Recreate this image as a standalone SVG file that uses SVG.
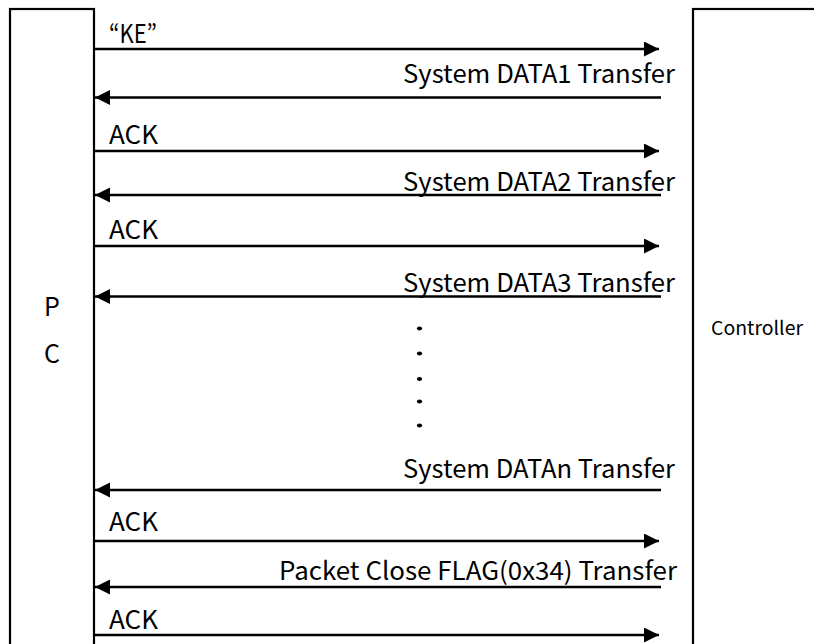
<svg xmlns="http://www.w3.org/2000/svg" width="814" height="644" viewBox="0 0 814 644">
<style>
.box{fill:#fff;stroke:#000;stroke-width:2.2}
.msg{stroke:#000;stroke-width:2.4;fill:none;marker-end:url(#ah)}
text{font-family:"Noto Sans CJK KR","Noto Sans","Liberation Sans",sans-serif;fill:#000}
.lbl{font-size:25px}
.big{font-size:25px}
</style>
<defs>
<marker id="ah" markerUnits="userSpaceOnUse" markerWidth="16" markerHeight="16" refX="15" refY="7.5" orient="auto">
<path d="M0,0 L15,7.5 L0,15 z" fill="#000"/>
</marker>
</defs>
<rect width="814" height="644" fill="#fff"/>
<g id="pc">
<rect class="box" x="10" y="9" width="84" height="660"/>
<text class="big" x="52" y="316" text-anchor="middle">P</text>
<text class="big" x="52" y="363" text-anchor="middle">C</text>
</g>
<g id="controller">
<rect class="box" x="693" y="9" width="150" height="660"/>
<text x="711" y="335" font-size="19" textLength="92" lengthAdjust="spacingAndGlyphs">Controller</text>
</g>
<g id="connectors">
<line class="msg" x1="94" y1="49" x2="659" y2="49"/>
<line class="msg" x1="661" y1="97.5" x2="95" y2="97.5"/>
<line class="msg" x1="94" y1="151" x2="659" y2="151"/>
<line class="msg" x1="661" y1="195" x2="95" y2="195"/>
<line class="msg" x1="94" y1="246" x2="659" y2="246"/>
<line class="msg" x1="661" y1="296.5" x2="95" y2="296.5"/>
<line class="msg" x1="661" y1="490" x2="95" y2="490"/>
<line class="msg" x1="94" y1="541" x2="659" y2="541"/>
<line class="msg" x1="661" y1="587" x2="95" y2="587"/>
<line class="msg" x1="94" y1="635" x2="659" y2="635"/>
</g>
<g id="labels">
<text class="big" x="109" y="43" textLength="48" lengthAdjust="spacingAndGlyphs">“KE”</text>
<text class="lbl" x="403" y="83" textLength="272" lengthAdjust="spacingAndGlyphs">System DATA1 Transfer</text>
<text class="big" x="109" y="144" textLength="49" lengthAdjust="spacingAndGlyphs">ACK</text>
<text class="lbl" x="403" y="191" textLength="272" lengthAdjust="spacingAndGlyphs">System DATA2 Transfer</text>
<text class="big" x="109" y="239" textLength="49" lengthAdjust="spacingAndGlyphs">ACK</text>
<text class="lbl" x="403" y="292" textLength="272" lengthAdjust="spacingAndGlyphs">System DATA3 Transfer</text>
<text class="lbl" x="403" y="478" textLength="272" lengthAdjust="spacingAndGlyphs">System DATAn Transfer</text>
<text class="big" x="109" y="531" textLength="49" lengthAdjust="spacingAndGlyphs">ACK</text>
<text class="lbl" x="279" y="580" textLength="398" lengthAdjust="spacingAndGlyphs">Packet Close FLAG(0x34) Transfer</text>
<text class="big" x="109" y="629" textLength="49" lengthAdjust="spacingAndGlyphs">ACK</text>
</g>
<g id="dots" fill="#000">
<ellipse cx="419.5" cy="328.5" rx="2.6" ry="2.1"/>
<ellipse cx="419.5" cy="353.5" rx="2.6" ry="2.1"/>
<ellipse cx="419.5" cy="379" rx="2.6" ry="2.1"/>
<ellipse cx="419.5" cy="401.5" rx="2.6" ry="2.1"/>
<ellipse cx="419.5" cy="425.5" rx="2.6" ry="2.1"/>
</g>
</svg>
